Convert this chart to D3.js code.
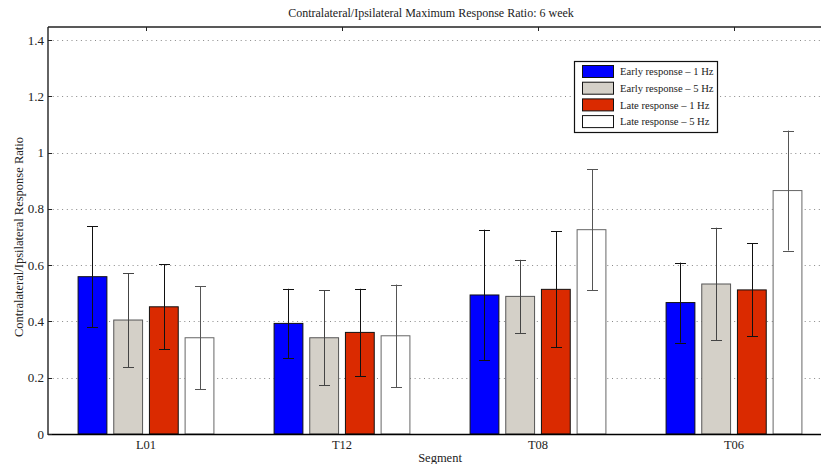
<!DOCTYPE html>
<html><head><meta charset="utf-8">
<script src="https://cdn.jsdelivr.net/npm/d3@7"></script>
<style>body{margin:0;background:#fff}svg{display:block;font-family:"Liberation Serif","Times New Roman",serif}</style>
</head><body><svg id="c" width="821" height="464"></svg>
<script>
const categories = ["L01","T12","T08","T06"];
const seriesNames = ["Early response \u2013 1 Hz","Early response \u2013 5 Hz","Late response \u2013 1 Hz","Late response \u2013 5 Hz"];
const earlyResp1Hz = [0.559,0.393,0.494,0.467];
const earlyResp5Hz = [0.405,0.342,0.489,0.533];
const lateResp1Hz  = [0.452,0.361,0.514,0.512];
const lateResp5Hz  = [0.342,0.349,0.726,0.865];
const earlyErr1Hz = [0.180,0.123,0.232,0.142];
const earlyErr5Hz = [0.167,0.168,0.130,0.200];
const lateErr1Hz  = [0.151,0.155,0.206,0.165];
const lateErr5Hz  = [0.183,0.182,0.215,0.213];
const yTicks = [0,0.2,0.4,0.6,0.8,1,1.2,1.4];
const yTickLabels = ["0","0.2","0.4","0.6","0.8","1","1.2","1.4"];
const colors = ["#0000ff","#d4d0c8","#da2a00","#ffffff"];
const edgeColors = ["#111","#555","#111","#666"];
const errColors = ["#111","#444","#111","#555"];

const values = [earlyResp1Hz,earlyResp5Hz,lateResp1Hz,lateResp5Hz];
const errs = [earlyErr1Hz,earlyErr5Hz,lateErr1Hz,lateErr5Hz];

const svg = d3.select("#c");
const L=48, R=832, T=27, B=434;
const x = d3.scaleLinear().domain([0.5,4.5]).range([L,R]);
const y = d3.scaleLinear().domain([0,1.4]).range([B,40]);
const offsets = [-0.273,-0.091,0.091,0.273];
const bw = 0.147;

// grid
svg.append("g").selectAll("line").data(yTicks.filter(d=>d>0)).join("line")
  .attr("x1",L).attr("x2",821).attr("y1",d=>Math.round(y(d))+0.5).attr("y2",d=>Math.round(y(d))+0.5)
  .attr("stroke","#888").attr("stroke-width",1).attr("stroke-dasharray","1,3.7");

// bars
values.forEach((vals,s)=>{
  const g = svg.append("g");
  g.selectAll("rect").data(vals).join("rect")
    .attr("x",(d,i)=>x(i+1+offsets[s]-bw/2))
    .attr("width",x(bw)-x(0))
    .attr("y",d=>y(d)).attr("height",d=>B-y(d))
    .attr("fill",colors[s]).attr("stroke",edgeColors[s]).attr("stroke-width",1);
});
// error bars
values.forEach((vals,s)=>{
  const g = svg.append("g").attr("stroke",errColors[s]).attr("stroke-width",1);
  vals.forEach((v,i)=>{
    const cx = Math.round(x(i+1+offsets[s]))+0.5;
    const e = errs[s][i];
    g.append("line").attr("x1",cx).attr("x2",cx).attr("y1",y(v+e)).attr("y2",y(v-e));
    [v+e,v-e].forEach(w=>g.append("line").attr("x1",cx-5.5).attr("x2",cx+5.5).attr("y1",Math.round(y(w))+0.5).attr("y2",Math.round(y(w))+0.5));
  });
});

// axes box
svg.append("line").attr("x1",L).attr("x2",821).attr("y1",B+0.5).attr("y2",B+0.5).attr("stroke","#000").attr("stroke-width",1.6);
svg.append("line").attr("x1",L).attr("x2",821).attr("y1",T).attr("y2",T).attr("stroke","#222").attr("stroke-width",1.4);
svg.append("line").attr("x1",L).attr("x2",L).attr("y1",T).attr("y2",B+1).attr("stroke","#222").attr("stroke-width",1.4);

// x ticks on top
svg.append("g").selectAll("line").data(categories).join("line")
  .attr("x1",(d,i)=>Math.round(x(i+1))+0.5).attr("x2",(d,i)=>Math.round(x(i+1))+0.5)
  .attr("y1",T).attr("y2",T+4).attr("stroke","#222");
// y ticks
svg.append("g").selectAll("line").data(yTicks).join("line")
  .attr("x1",L).attr("x2",L+4).attr("y1",d=>Math.round(y(d))+0.5).attr("y2",d=>Math.round(y(d))+0.5).attr("stroke","#222");

// y tick labels
svg.append("g").selectAll("text").data(yTicks).join("text")
  .attr("x",L-4).attr("y",d=>y(d)).attr("dy","0.35em").attr("text-anchor","end")
  .attr("font-size",13).attr("fill","#222").text((d,i)=>yTickLabels[i]);
// x tick labels
svg.append("g").selectAll("text").data(categories).join("text")
  .attr("x",(d,i)=>x(i+1)).attr("y",B+15).attr("text-anchor","middle")
  .attr("font-size",12.5).attr("fill","#222").text(d=>d);

// axis titles
svg.append("text").attr("x",440).attr("y",462).attr("text-anchor","middle").attr("font-size",12.5).attr("fill","#222").text("Segment");
svg.append("text").attr("transform","translate(23,237) rotate(-90)").attr("text-anchor","middle").attr("font-size",12.5).attr("fill","#222").text("Contralateral/Ipsilateral Response Ratio");
svg.append("text").attr("x",431).attr("y",17).attr("text-anchor","middle").attr("font-size",12).attr("fill","#222").text("Contralateral/Ipsilateral Maximum Response Ratio: 6 week");

// legend
const lg = svg.append("g");
lg.append("rect").attr("x",574.5).attr("y",61.5).attr("width",143).attr("height",71).attr("fill","#fff").attr("stroke","#111").attr("stroke-width",1.2);
seriesNames.forEach((n,s)=>{
  const yy = 65+s*16.7;
  lg.append("rect").attr("x",582.5).attr("y",yy+0.5).attr("width",31).attr("height",12).attr("fill",colors[s]).attr("stroke","#111").attr("stroke-width",1);
  lg.append("text").attr("x",620).attr("y",yy+6.5).attr("dy","0.35em").attr("font-size",10.6).attr("fill","#222").text(n);
});
</script></body></html>
